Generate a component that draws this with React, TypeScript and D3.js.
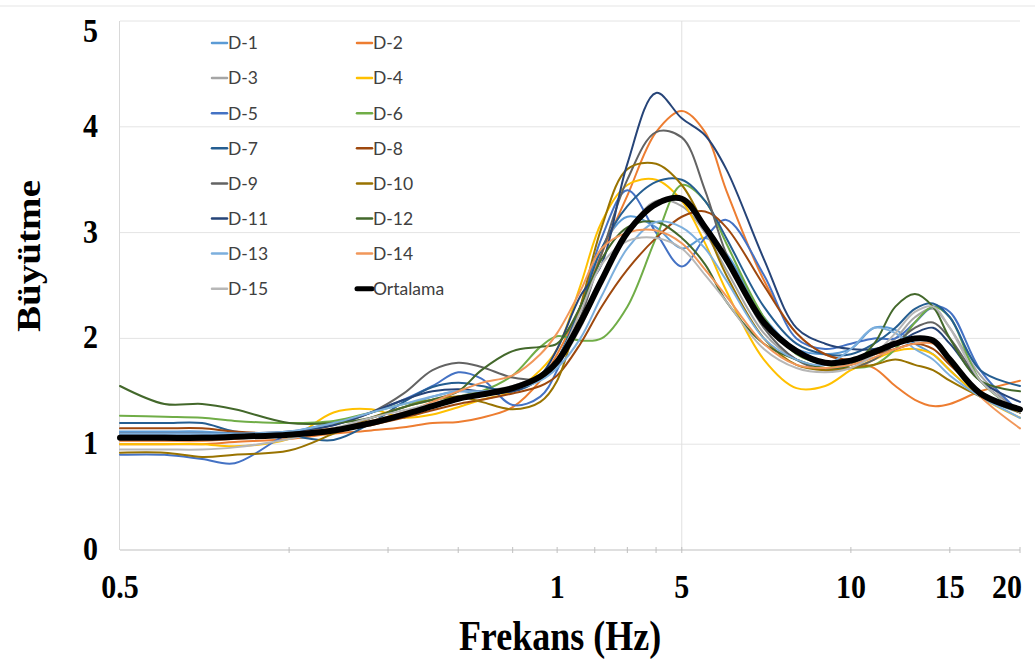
import React from "react";
import * as d3 from "d3";

const FREQ = [0.5, 0.6, 0.7, 0.8, 1.0, 1.2, 1.4, 1.6, 1.8, 2.0, 2.2, 2.5, 2.8, 3.0, 3.3, 3.6, 4.0, 4.5, 5.0, 5.5, 6.0, 7.0, 8.0, 9.0, 10, 11, 12, 13, 14, 15, 17, 20];

const D1 = [1.12, 1.12, 1.12, 1.1, 1.08, 1.14, 1.25, 1.35, 1.45, 1.5, 1.48, 1.5, 1.62, 1.8, 2.3, 2.85, 3.15, 3.05, 2.85, 2.95, 2.8, 2.2, 1.9, 1.85, 1.9, 2.1, 2.08, 1.95, 1.85, 1.7, 1.45, 1.3];
const D2 = [1.0, 1.0, 1.0, 1.02, 1.05, 1.1, 1.13, 1.16, 1.2, 1.21, 1.25, 1.35, 1.6, 1.85, 2.3, 2.8, 3.35, 3.95, 4.15, 3.95, 3.4, 2.55, 2.05, 1.85, 1.78, 1.72, 1.55, 1.42, 1.36, 1.38, 1.5, 1.6];
const D3 = [1.08, 1.08, 1.08, 1.08, 1.1, 1.15, 1.22, 1.3, 1.38, 1.45, 1.5, 1.55, 1.65, 1.75, 2.1, 2.55, 3.0, 3.3, 3.25, 3.0, 2.65, 2.05, 1.8, 1.72, 1.75, 1.85, 2.0, 2.2, 2.28, 2.1, 1.65, 1.3];
const D4 = [1.0, 1.0, 1.0, 0.98, 1.05, 1.3, 1.33, 1.25, 1.28, 1.35, 1.42, 1.5, 1.7, 1.9, 2.5, 3.1, 3.45, 3.5, 3.3, 2.9, 2.45, 1.8, 1.53, 1.55, 1.7, 1.8, 1.88, 1.9, 1.85, 1.7, 1.45, 1.25];
const D5 = [0.9, 0.9, 0.86, 0.82, 1.1, 1.2, 1.3, 1.42, 1.55, 1.68, 1.62, 1.37, 1.45, 1.7, 2.3, 2.95, 3.4, 3.0, 2.68, 2.95, 3.12, 2.6, 2.0, 1.9, 1.95, 2.0, 2.0, 2.15, 2.3, 2.25, 1.7, 1.3];
const D6 = [1.27, 1.26, 1.25, 1.22, 1.2, 1.22, 1.3, 1.38, 1.42, 1.45, 1.5, 1.65, 1.92, 2.02, 1.98, 2.0, 2.3, 2.95, 3.45, 3.3, 2.9, 2.2, 1.85, 1.75, 1.72, 1.75, 1.9, 2.15, 2.3, 2.2, 1.6, 1.3];
const D7 = [1.2, 1.2, 1.2, 1.12, 1.08, 1.04, 1.2, 1.4, 1.54, 1.58, 1.55, 1.5, 1.62, 1.8, 2.3, 2.85, 3.25, 3.48, 3.5, 3.3, 2.95, 2.3, 1.95, 1.85, 1.85, 1.95, 2.1, 2.28, 2.33, 2.2, 1.7, 1.55];
const D8 = [1.15, 1.15, 1.15, 1.12, 1.1, 1.12, 1.18, 1.25, 1.32, 1.38, 1.42, 1.48, 1.55, 1.65, 1.95, 2.3, 2.65, 2.95, 3.15, 3.2, 3.05, 2.5, 2.05, 1.85, 1.8, 1.85, 1.9, 1.95, 1.9, 1.75, 1.5, 1.3];
const D9 = [1.1, 1.1, 1.1, 1.08, 1.1, 1.18, 1.3, 1.48, 1.7, 1.77, 1.73, 1.63, 1.62, 1.75, 2.2, 2.8, 3.5, 3.95, 3.9, 3.4, 2.8, 2.1, 1.8, 1.7, 1.72, 1.8, 1.95, 2.1, 2.15, 2.0, 1.6, 1.3];
const D10 = [0.92, 0.92, 0.88, 0.9, 0.94, 1.1, 1.25, 1.35, 1.42, 1.45, 1.4, 1.33, 1.4, 1.6, 2.3, 3.05, 3.6, 3.65, 3.45, 3.05, 2.6, 2.0, 1.75, 1.7, 1.72, 1.75, 1.8, 1.75, 1.7, 1.6, 1.45, 1.3];
const D11 = [1.1, 1.1, 1.1, 1.1, 1.12, 1.18, 1.3, 1.42, 1.5, 1.52, 1.5, 1.5, 1.65, 1.9, 2.4, 2.7, 3.65, 4.32, 4.08, 3.92, 3.6, 2.75, 2.1, 1.95, 1.9, 1.9, 1.95, 2.05, 2.1, 1.95, 1.6, 1.4];
const D12 = [1.55, 1.38, 1.38, 1.33, 1.2, 1.2, 1.25, 1.35, 1.42, 1.5, 1.7, 1.88, 1.92, 1.95, 2.3, 2.75, 3.05, 3.1, 2.95, 2.7, 2.35, 1.95, 1.8, 1.72, 1.75, 1.95, 2.3, 2.42, 2.3, 2.0, 1.6, 1.5];
const D13 = [1.1, 1.1, 1.1, 1.1, 1.12, 1.2, 1.3, 1.38, 1.45, 1.5, 1.5, 1.52, 1.6, 1.72, 2.0, 2.4, 2.85, 3.1, 3.05, 2.85, 2.55, 2.0, 1.8, 1.75, 1.9, 2.1, 2.05, 1.9, 1.8, 1.65, 1.45, 1.25];
const D14 = [1.03, 1.03, 1.03, 1.05, 1.1, 1.15, 1.22, 1.3, 1.4, 1.5, 1.58, 1.65, 1.85, 2.05, 2.45, 2.85, 3.0, 3.02, 2.9, 2.65, 2.4, 1.95, 1.75, 1.72, 1.75, 1.82, 1.9, 1.95, 1.95, 1.8, 1.45, 1.15];
const D15 = [0.95, 0.95, 0.95, 0.97, 1.05, 1.15, 1.25, 1.32, 1.38, 1.42, 1.46, 1.52, 1.65, 1.8, 2.25, 2.7, 2.92, 2.95, 2.85, 2.6, 2.35, 1.9, 1.72, 1.68, 1.72, 1.85, 2.05, 2.25, 2.3, 2.1, 1.6, 1.3];
const ORTALAMA = [1.06, 1.06, 1.06, 1.07, 1.09, 1.13, 1.2, 1.28, 1.36, 1.43, 1.47, 1.53, 1.64, 1.78, 2.15, 2.55, 3.0, 3.27, 3.32, 3.05, 2.75, 2.15, 1.88, 1.77, 1.79, 1.87, 1.95, 2.0, 1.98, 1.8, 1.48, 1.33];

const SERIES_NAMES = ["D-1", "D-2", "D-3", "D-4", "D-5", "D-6", "D-7", "D-8", "D-9", "D-10", "D-11", "D-12", "D-13", "D-14", "D-15", "Ortalama"];
const SERIES_VALUES = [D1, D2, D3, D4, D5, D6, D7, D8, D9, D10, D11, D12, D13, D14, D15, ORTALAMA];
const COLORS = ["#5B9BD5", "#ED7D31", "#A5A5A5", "#FFC000", "#4472C4", "#70AD47", "#255E91", "#9E480E", "#636363", "#997300", "#264478", "#43682B", "#7CAFDD", "#F1975A", "#B7B7B7", "#000000"];

const Y_TICKS = [0, 1, 2, 3, 4, 5];
const X_TICK_VALUES = [0.5, 3, 5, 10, 15, 20];
const X_TICK_LABELS = ["0.5", "1", "5", "10", "15", "20"];
const X_MINOR = [1, 1.5, 2, 2.5, 3, 3.5, 4, 4.5, 5, 10, 15, 20];

export default function App() {
  const W = 1035, H = 662;
  const x = d3.scaleLog().domain([0.5, 20]).range([120, 1020]);
  const y = d3.scaleLinear().domain([0, 5]).range([550, 21]);
  const line = d3
    .line<number>()
    .x((_, i) => x(FREQ[i]))
    .y((v) => y(v))
    .curve(d3.curveCatmullRom.alpha(0.5));

  const serif = "'Liberation Serif', 'Times New Roman', serif";
  const sans = "Lato, 'Open Sans', 'Noto Sans', sans-serif";
  const stretch = 1.15;

  return (
    <svg width={W} height={H} style={{ position: "absolute", left: 0, top: 0, background: "#fff" }}>
      <rect x={0} y={0} width={W} height={H} fill="#fff" />
      <line x1={0} x2={W} y1={6} y2={6} stroke="#eeeeee" strokeWidth={1.5} />
      {Y_TICKS.filter((t) => t > 0).map((t) => (
        <line key={"g" + t} x1={120} x2={1020} y1={y(t)} y2={y(t)} stroke="#e4e4e4" strokeWidth={1} />
      ))}
      <line x1={x(5)} x2={x(5)} y1={y(5)} y2={y(0)} stroke="#e0e0e0" strokeWidth={1} />
      <line x1={119.5} x2={119.5} y1={y(5)} y2={y(0)} stroke="#d9d9d9" strokeWidth={1} />
      <line x1={120} x2={1020} y1={y(0)} y2={y(0)} stroke="#bfbfbf" strokeWidth={1.2} />
      {X_MINOR.map((v) => (
        <line key={"m" + v} x1={x(v)} x2={x(v)} y1={y(0) - 3} y2={y(0) + 3} stroke="#bfbfbf" strokeWidth={1} />
      ))}
      {SERIES_VALUES.map((vals, i) => (
        <path
          key={SERIES_NAMES[i]}
          d={line(vals) || ""}
          fill="none"
          stroke={COLORS[i]}
          strokeWidth={i === 15 ? 6 : 2}
          strokeLinejoin="round"
          strokeLinecap="round"
        />
      ))}
      {Y_TICKS.map((t) => (
        <text
          key={"yl" + t}
          transform={`translate(98,${Math.max(y(t), 32) + 10}) scale(1,${stretch})`}
          textAnchor="end"
          fontFamily={serif}
          fontWeight="bold"
          fontSize={30}
          fill="#000"
        >
          {t}
        </text>
      ))}
      {X_TICK_VALUES.map((v, i) => {
        const last = i === X_TICK_VALUES.length - 1;
        return (
          <text
            key={"xl" + i}
            transform={`translate(${last ? x(v) + 2 : x(v)},598) scale(1,${stretch})`}
            textAnchor={last ? "end" : "middle"}
            fontFamily={serif}
            fontWeight="bold"
            fontSize={30}
            fill="#000"
          >
            {X_TICK_LABELS[i]}
          </text>
        );
      })}
      <text
        transform={`translate(560,650) scale(1,${stretch})`}
        textAnchor="middle"
        fontFamily={serif}
        fontWeight="bold"
        fontSize={36}
        fill="#000"
      >
        Frekans (Hz)
      </text>
      <text
        transform={`translate(40,256) rotate(-90) scale(${stretch},1)`}
        textAnchor="middle"
        fontFamily={serif}
        fontWeight="bold"
        fontSize={34}
        fill="#000"
      >
        Büyütme
      </text>
      {SERIES_NAMES.map((name, i) => {
        const col = i % 2;
        const row = Math.floor(i / 2);
        const lx = col === 0 ? 212 : 357;
        const ly = 43 + row * 35.1;
        return (
          <g key={"lg" + name}>
            <line x1={lx} x2={lx + 15} y1={ly} y2={ly} stroke={COLORS[i]} strokeWidth={i === 15 ? 5 : 2.5} strokeLinecap="round" />
            <text x={lx + 16} y={ly} dy="0.36em" fontFamily={sans} fontSize={17.5} fill="#404040">
              {name}
            </text>
          </g>
        );
      })}
    </svg>
  );
}
